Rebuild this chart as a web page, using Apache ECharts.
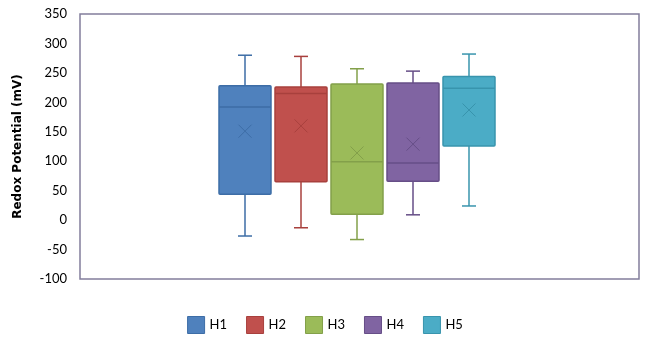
<!DOCTYPE html>
<html>
<head>
<meta charset="utf-8">
<script src="https://cdn.jsdelivr.net/npm/echarts@6/dist/echarts.min.js"></script>
<style>html,body{margin:0;padding:0;background:#fff;}#c{width:650px;height:361px;}</style>
</head>
<body>
<div id="c"></div>
<script>
const categories = ['H1', 'H2', 'H3', 'H4', 'H5'];
const mins    = [-27, -13, -33, 9, 24];
const q1s     = [44, 65, 10, 66, 126];
const medians = [192, 215, 99, 97, 224];
const q3s     = [228, 226, 231, 233, 244];
const maxs    = [280, 278, 257, 253, 282];
const means   = [151, 160, 114, 129, 187];
const yMin = -100, yMax = 350, yStep = 50;
const yTitle = 'Redox Potential (mV)';

const fills   = ['#4F81BD', '#C0504D', '#9BBB59', '#8064A2', '#4BACC6'];
const strokes = ['#3D6DA6', '#A8403D', '#83A04A', '#664E87', '#3894AD'];

const FONT = 'Lato';
const chart = echarts.init(document.getElementById('c'), null, {renderer: 'canvas'});

function renderBox(params, api) {
  const i = params.seriesIndex;
  const x = api.value(0);
  const pMin = api.coord([x, api.value(1)]);
  const pQ1 = api.coord([x, api.value(2)]);
  const pMed = api.coord([x, api.value(3)]);
  const pQ3 = api.coord([x, api.value(4)]);
  const pMax = api.coord([x, api.value(5)]);
  const pMean = api.coord([x, api.value(6)]);
  const band = api.size([1, 0])[0];
  const half = band * 26 / 56;
  const cap = 7;
  const cx = pMed[0];
  const st = strokes[i];
  const lw = 1.5;
  const m = 6.5;
  return {
    type: 'group',
    children: [
      {type: 'line', shape: {x1: cx, y1: pQ3[1], x2: cx, y2: pMax[1]}, style: {stroke: st, lineWidth: lw}},
      {type: 'line', shape: {x1: cx, y1: pQ1[1], x2: cx, y2: pMin[1]}, style: {stroke: st, lineWidth: lw}},
      {type: 'line', shape: {x1: cx - cap, y1: pMax[1], x2: cx + cap, y2: pMax[1]}, style: {stroke: st, lineWidth: lw}},
      {type: 'line', shape: {x1: cx - cap, y1: pMin[1], x2: cx + cap, y2: pMin[1]}, style: {stroke: st, lineWidth: lw}},
      {type: 'rect', shape: {x: cx - half, y: pQ3[1], width: half * 2, height: pQ1[1] - pQ3[1], r: 1},
        style: {fill: fills[i], stroke: st, lineWidth: lw}},
      {type: 'line', shape: {x1: cx - half, y1: pMed[1], x2: cx + half, y2: pMed[1]}, style: {stroke: st, lineWidth: lw}},
      {type: 'line', shape: {x1: cx - m, y1: pMean[1] - m, x2: cx + m, y2: pMean[1] + m}, style: {stroke: st, lineWidth: 1}},
      {type: 'line', shape: {x1: cx - m, y1: pMean[1] + m, x2: cx + m, y2: pMean[1] - m}, style: {stroke: st, lineWidth: 1}}
    ]
  };
}

const series = categories.map((name, i) => ({
  name: name,
  type: 'custom',
  xAxisIndex: 1,
  yAxisIndex: 1,
  itemStyle: {color: fills[i], borderColor: strokes[i], borderWidth: 1},
  renderItem: renderBox,
  encode: {x: 0, y: [1, 2, 3, 4, 5]},
  data: [[i, mins[i], q1s[i], medians[i], q3s[i], maxs[i], means[i]]]
}));

chart.setOption({
  animation: false,
  grid: [
    {left: 80, right: 11, top: 14, bottom: 82, show: true, borderColor: '#827e9c', borderWidth: 1.5, containLabel: false},
    {left: 217, width: 280, top: 14, bottom: 82}
  ],
  xAxis: [
    {gridIndex: 0, type: 'category', data: [''], show: false},
    {gridIndex: 1, type: 'category', data: categories, show: false}
  ],
  yAxis: [
    {gridIndex: 0, type: 'value', min: yMin, max: yMax, interval: yStep,
     name: yTitle, nameLocation: 'middle', nameGap: 56,
     nameTextStyle: {fontFamily: 'DejaVu Sans', fontWeight: 'bold', fontSize: 12, color: '#000'},
     axisLine: {show: false}, axisTick: {show: false}, splitLine: {show: false},
     axisLabel: {fontFamily: FONT, fontSize: 13, color: '#000', margin: 13}},
    {gridIndex: 1, type: 'value', min: yMin, max: yMax, interval: yStep, show: false, splitLine: {show: false}}
  ],
  legend: {
    bottom: 22, left: 'center', icon: 'rect', itemWidth: 17, itemHeight: 17, itemGap: 19,
    textStyle: {fontFamily: FONT, fontSize: 13, color: '#000'},
    data: categories.map((n, i) => ({name: n, itemStyle: {color: fills[i], borderColor: strokes[i], borderWidth: 1}}))
  },
  series: series
});
</script>
</body>
</html>
